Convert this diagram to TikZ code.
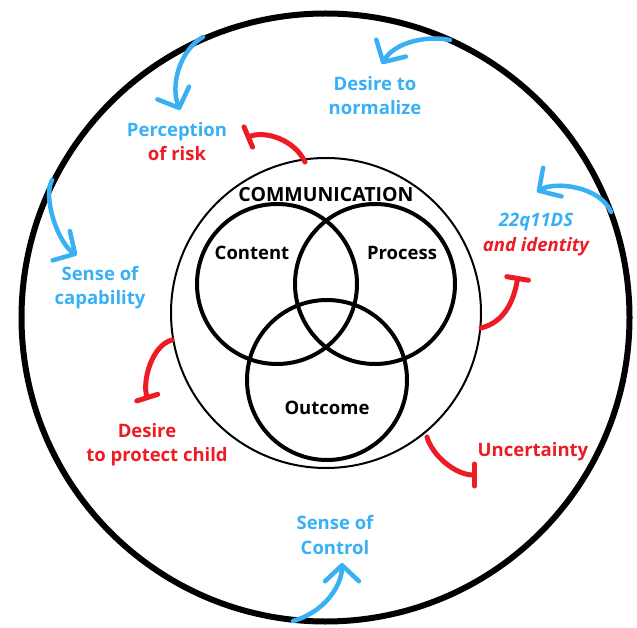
\documentclass[tikz,border=0pt]{standalone}
\usepackage{fontspec}
\setmainfont{Open Sans}
\usetikzlibrary{arrows.meta}
\definecolor{cblue}{RGB}{56,176,245}
\definecolor{cred}{RGB}{237,28,36}
\begin{document}
\begin{tikzpicture}[x=1pt,y=-1pt,
  ring/.style={circle,draw,inner sep=0pt,outer sep=0pt},
  lbl/.style={font=\fontsize{18.5}{24.5}\selectfont\bfseries,align=center,inner sep=0pt},
  barrow/.style={draw=cblue,line width=4.5pt,line cap=round,-{Straight Barb[length=16pt,width=34pt,round]}},
  rbar/.style={draw=cred,line width=5pt,line cap=round,-{Bar[width=22pt,round]}}]
\useasboundingbox (0,0) rectangle (637,628);
% circles
\node[ring,line width=6pt,minimum size=608pt] (outer) at (325.5,317.5) {};
\node[ring,line width=2pt,minimum size=310pt] (inner) at (326,313) {};
\node[ring,line width=4pt,minimum size=160pt] (content) at (277,284) {};
\node[ring,line width=4pt,minimum size=160pt] (process) at (375,284) {};
\node[ring,line width=4pt,minimum size=160pt] (outcome) at (327,380) {};
% inner labels
\node[lbl,font=\fontsize{19.5}{24.5}\selectfont\bfseries] (comm) at (326,195) {COMMUNICATION};
\node[lbl] (tcontent) at (252,253) {Content};
\node[lbl] (tprocess) at (402,253) {Process};
\node[lbl] (toutcome) at (327,408) {Outcome};
% outer labels
\node[lbl,text=cblue] (tnorm) at (375,95.5) {Desire to\\normalize};
\node[lbl] (trisk) at (177,141.5) {\textcolor{cblue}{Perception}\\\textcolor{cred}{of risk}};
\node[lbl,font=\fontsize{18.5}{24.5}\selectfont\bfseries\itshape] (tident) at (536,234.5) {\textcolor{cblue}{22q11DS}\\\textcolor{cred}{and identity}};
\node[lbl,text=cblue] (tcap) at (100,287.5) {Sense of\\capability};
\node[lbl,text=cred] (tchild) at (157,444.5) {Desire\hspace*{20pt}\\to protect child};
\node[lbl,text=cred] (tunc) at (533,452) {Uncertainty};
\node[lbl,text=cblue] (tctrl) at (335,535) {Sense of\\Control};
% connector end points
\coordinate (b1s) at (203,37);  \coordinate (b1e) at (180,110);
\coordinate (b2s) at (450,40);  \coordinate (b2e) at (382,64);
\coordinate (b3s) at (611,212); \coordinate (b3e) at (537,192);
\coordinate (b4s) at (52,180);  \coordinate (b4e) at (77,255);
\coordinate (b5s) at (293,621); \coordinate (b5e) at (342,563);
\coordinate (r1s) at (305,162); \coordinate (r1e) at (246,138);
\coordinate (r2s) at (481,328); \coordinate (r2e) at (518,276);
\coordinate (r3s) at (172,340); \coordinate (r3e) at (148,400);
\coordinate (r4s) at (427,437); \coordinate (r4e) at (477,475);
% blue arrows
\draw[barrow] (b1s) .. controls (180,50) and (170,85) .. (b1e);
\draw[barrow] (b2s) .. controls (425,35) and (394,43) .. (b2e);
\draw[barrow] (b3s) .. controls (600,186) and (554,181) .. (b3e);
\draw[barrow] (b4s) .. controls (42,200) and (60,245) .. (b4e);
\draw[barrow] (b5s) .. controls (325,612) and (342,585) .. (b5e);
% red inhibitors
\draw[rbar] (r1s) .. controls (295,140) and (265,130) .. (r1e);
\draw[rbar] (r2s) .. controls (505,322) and (514,300) .. (r2e);
\draw[rbar] (r3s) .. controls (152,345) and (142,381) .. (r3e);
\draw[rbar] (r4s) .. controls (432,455) and (455,475) .. (r4e);
\end{tikzpicture}
\end{document}
